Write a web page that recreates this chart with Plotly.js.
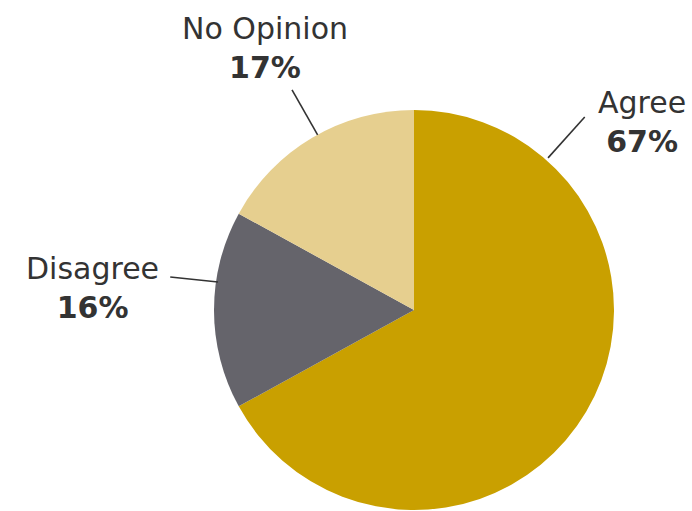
<!DOCTYPE html>
<html>
<head>
<meta charset="utf-8">
<script src="https://cdn.plot.ly/plotly-3.0.1.min.js"></script>
<style>html,body{margin:0;padding:0;background:#fff;}#chart{width:692px;height:511px;}</style>
</head>
<body>
<div id="chart"></div>
<script>
var categories = ["Agree", "Disagree", "No Opinion"];
var shares = [67, 16, 17];
var sliceColors = ["#C9A000", "#65646B", "#E6CF8F"];

// label placement (paper coords) and leader lines, in the order of categories
var labelPos = [
  {x: 0.928, y: 0.762},
  {x: 0.133, y: 0.436},
  {x: 0.383, y: 0.906}
];
var leaders = [
  [0.845, 0.771, 0.792, 0.691],
  [0.246, 0.458, 0.315, 0.448],
  [0.422, 0.824, 0.459, 0.736]
];

var W = 692, H = 511;
var cx = 414, cy = 310, r = 200;

var trace = {
  type: "pie",
  labels: categories,
  values: shares,
  sort: false,
  direction: "clockwise",
  rotation: 0,
  textinfo: "none",
  hoverinfo: "label+percent",
  marker: {colors: sliceColors, line: {width: 0}},
  domain: {
    x: [(cx - r) / W, (cx + r) / W],
    y: [1 - (cy + r) / H, 1 - (cy - r) / H]
  },
  showlegend: false
};

var annotations = categories.map(function (c, i) {
  return {
    xref: "paper", yref: "paper",
    x: labelPos[i].x, y: labelPos[i].y,
    xanchor: "center", yanchor: "middle",
    text: c + "<br><b>" + shares[i] + "%</b>",
    showarrow: false,
    align: "center",
    font: {family: "DejaVu Sans", size: 30, color: "#333333"}
  };
});

var shapes = leaders.map(function (l) {
  return {
    type: "line", xref: "paper", yref: "paper",
    x0: l[0], y0: l[1], x1: l[2], y1: l[3],
    line: {color: "#333333", width: 1.6}
  };
});

var layout = {
  width: W, height: H,
  margin: {l: 0, r: 0, t: 0, b: 0},
  paper_bgcolor: "#ffffff",
  annotations: annotations,
  shapes: shapes
};

Plotly.newPlot("chart", [trace], layout, {displayModeBar: false, staticPlot: true});
</script>
</body>
</html>
